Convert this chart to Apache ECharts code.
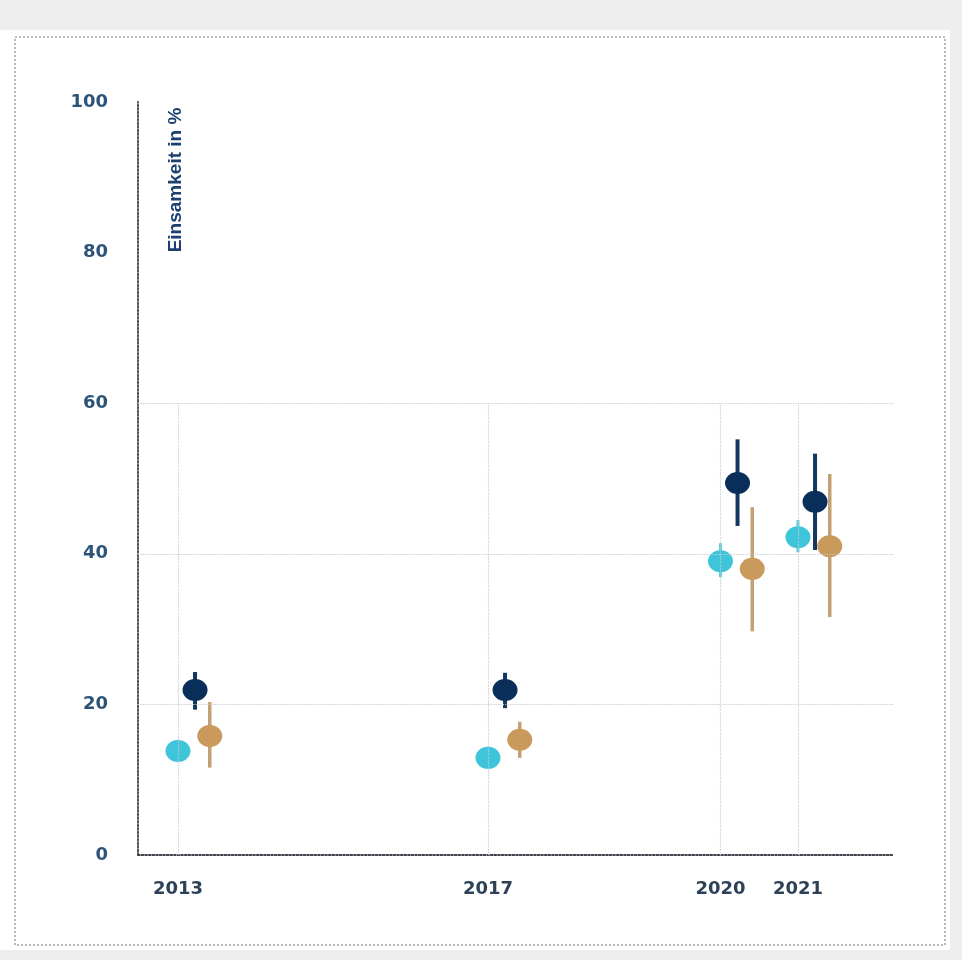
<!DOCTYPE html>
<html>
<head>
<meta charset="utf-8">
<script src="https://cdn.jsdelivr.net/npm/echarts@6/dist/echarts.min.js"></script>
<style>
  html, body { margin: 0; padding: 0; background: #eeeeee; }
  #bg { position: absolute; left: 0; top: 30px; width: 950px; height: 920px; background: #ffffff; }
  #chart { position: absolute; left: 0; top: 0; width: 962px; height: 960px; }
</style>
</head>
<body>
<div id="bg"></div>
<div id="chart"></div>
<script>
// ---- data ----
const years = [2013, 2017, 2020, 2021];
const yTicks = [0, 20, 40, 60, 80, 100];
const axisTitle = 'Einsamkeit in %';

// Series 1 (light blue)
const cyanValues = [13.8, 12.9, 39.0, 42.2];
const cyanLow    = [12.8, 11.9, 36.9, 40.2];
const cyanHigh   = [14.8, 13.9, 41.4, 44.5];

// Series 2 (dark blue)
const navyValues = [21.9, 21.9, 49.4, 46.9];
const navyLow    = [19.3, 19.5, 43.7, 40.5];
const navyHigh   = [24.3, 24.2, 55.2, 53.3];

// Series 3 (tan)
const tanValues = [15.8, 15.3, 38.0, 41.0];
const tanLow    = [11.6, 12.9, 29.7, 31.6];
const tanHigh   = [20.3, 17.7, 46.2, 50.6];

const gridYears = [2013, 2017, 2020, 2021];
const gridValues = [20, 40, 60];

// ---- chart ----
const chart = echarts.init(document.getElementById('chart'), null, { renderer: 'canvas' });

function errSeries(name, off, low, high, color, width) {
  return {
    name: name + ' err',
    type: 'custom',
    z: 3,
    data: years.map((y, i) => [y + off, low[i], high[i]]),
    encode: { x: 0, y: [1, 2] },
    renderItem: function (params, api) {
      const p1 = api.coord([api.value(0), api.value(1)]);
      const p2 = api.coord([api.value(0), api.value(2)]);
      return {
        type: 'line',
        shape: { x1: p1[0], y1: p1[1], x2: p2[0], y2: p2[1] },
        style: { stroke: color, lineWidth: width }
      };
    }
  };
}
function pointSeries(name, off, vals, color) {
  return {
    name: name,
    type: 'scatter',
    z: 4,
    symbol: 'circle',
    symbolSize: [25, 22],
    itemStyle: { color: color, opacity: 1 },
    data: years.map((y, i) => [y + off, vals[i]])
  };
}

const gridLineStyle = { type: 'dotted', color: '#c3c9d3', width: 1.2 };
const markLines = [];
gridValues.forEach(v => markLines.push({ yAxis: v }));
gridYears.forEach(y => markLines.push([{ coord: [y, 0] }, { coord: [y, 60] }]));

const series = [
  {
    type: 'scatter',
    data: [],
    z: 1,
    silent: true,
    markLine: {
      silent: true,
      symbol: ['none', 'none'],
      label: { show: false },
      lineStyle: gridLineStyle,
      animation: false,
      data: markLines
    }
  },
  errSeries('A', 0, cyanLow, cyanHigh, '#55cde0', 3),
  errSeries('B', 0.22, navyLow, navyHigh, '#13375f', 4),
  errSeries('C', 0.41, tanLow, tanHigh, '#c3a174', 3.5),
  pointSeries('A', 0, cyanValues, '#3ec5da'),
  pointSeries('B', 0.22, navyValues, '#0a2e5a'),
  pointSeries('C', 0.41, tanValues, '#c99a5c')
];

const option = {
  animation: false,
  backgroundColor: 'transparent',
  grid: { left: 138, right: 69, top: 102, bottom: 105, containLabel: false },
  xAxis: {
    type: 'value',
    min: 2012.484,
    max: 2022.226,
    splitLine: { show: false },
    axisTick: { show: false },
    axisLine: { show: true, lineStyle: { type: 'dotted', color: '#3e434a', width: 1.8 } },
    axisLabel: {
      customValues: years,
      formatter: v => String(v),
      margin: 25,
      color: '#2e4257',
      fontFamily: 'DejaVu Sans',
      fontWeight: 'bold',
      fontSize: 18
    }
  },
  yAxis: {
    type: 'value',
    min: 0,
    max: 100,
    interval: 20,
    splitLine: { show: false },
    axisTick: { show: false },
    axisLine: { show: true, lineStyle: { type: 'dotted', color: '#3e434a', width: 1.8 } },
    axisLabel: {
      customValues: yTicks,
      margin: 30,
      color: '#2b5478',
      fontFamily: 'DejaVu Sans',
      fontWeight: 'bold',
      fontSize: 18
    }
  },
  graphic: {
    elements: [
      {
        type: 'rect',
        silent: true,
        shape: { x: 15, y: 37, width: 930, height: 908 },
        style: { fill: 'none', stroke: '#9ea4ac', lineWidth: 1.5, lineDash: [2, 2] }
      },
      {
        type: 'text',
        silent: true,
        x: 176,
        y: 180,
        rotation: Math.PI / 2,
        style: {
          text: axisTitle,
          fill: '#1d4070',
          font: 'bold 19px "Liberation Sans", Arial, sans-serif',
          align: 'center',
          verticalAlign: 'middle'
        }
      }
    ]
  },
  series: series
};
chart.setOption(option);
</script>
</body>
</html>
